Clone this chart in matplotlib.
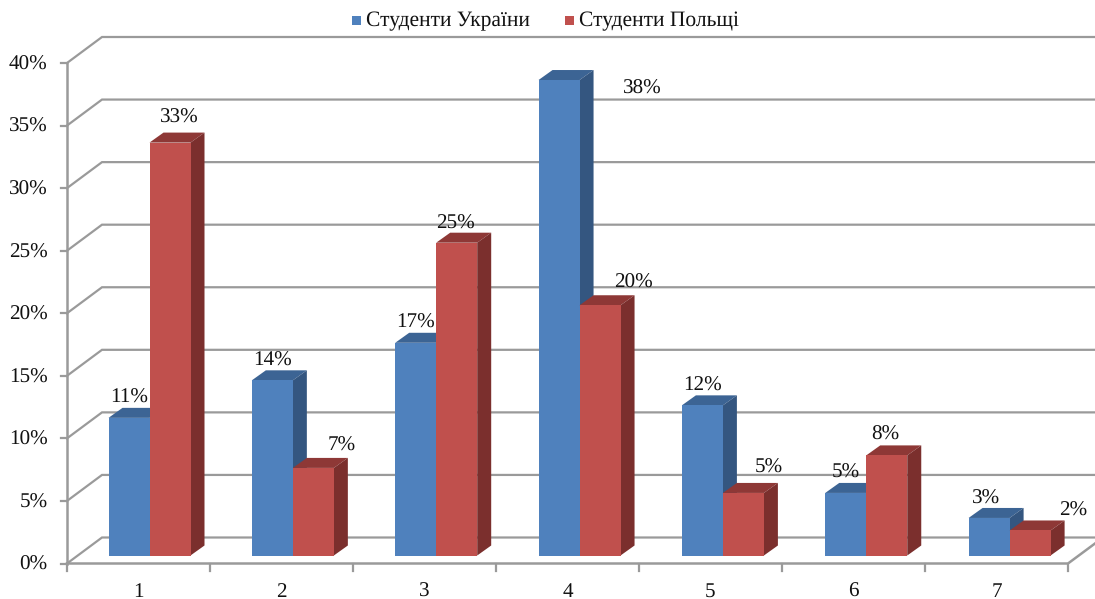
import matplotlib
matplotlib.use("Agg")
import matplotlib.pyplot as plt
from matplotlib.patches import Polygon, Rectangle

plt.rcParams['font.family'] = ['Liberation Serif', 'DejaVu Serif']
plt.rcParams['text.hinting'] = 'no_hinting'

categories = ['1', '2', '3', '4', '5', '6', '7']
ukraine = [11, 14, 17, 38, 12, 5, 3]
poland = [33, 7, 25, 20, 5, 8, 2]
y_ticks = [0, 5, 10, 15, 20, 25, 30, 35, 40]
series_names = ['Студенти України', 'Студенти Польщі']

# label shift from the bar top centre, in pixels (x right, y up)
ukraine_label_shift = [(0, 20), (0, 20), (0, 20), (83, -9), (0, 20), (0, 20), (-3, 19)]
poland_label_shift = [(9, 25), (28, 22), (-1, 19), (33, 23), (25, 25), (-1, 21), (43, 20)]

W, H = 1095, 599
LEFT, RIGHT, BOTTOM, TOP = 67, 1068, 563.5, 63
n = len(categories)
FS = 15.2

fig = plt.figure(figsize=(W / 100, H / 100), dpi=100)
ax = fig.add_axes([LEFT / W, 1 - BOTTOM / H, (RIGHT - LEFT) / W, (BOTTOM - TOP) / H])
ax.set_xlim(0, n)
ax.set_ylim(0, 40)
ax.axis('off')

px = n / (RIGHT - LEFT)
py = 40 / (BOTTOM - TOP)

# 3d wall and floor offsets
wall_dx, wall_dy = 35 * px, 26 * py
depth_dx, depth_dy = 14 * px, 10 * py
bar_w = 41 * px
gap = 41.5 * px
drift = 0.35 * px  # groups sit a bit wider than the ticks
floor = 8 * py

GRID = '#9a9a9a'
for t in y_ticks:
    ax.plot([0, wall_dx, n + 27 * px], [t, t + wall_dy, t + wall_dy], color=GRID, lw=1.6,
            clip_on=False, zorder=1, solid_joinstyle='miter')
    ax.plot([-6 * px, 0], [t, t], color=GRID, lw=1.6, clip_on=False, zorder=1)
    ax.text(-19.5 * px, t - 1.5 * py, f'{t}%', ha='right', va='center', fontsize=FS, color='#111111')
ax.plot([0, 0], [0, 40], color=GRID, lw=1.8, clip_on=False, zorder=1)
ax.plot([0, n, n + 27 * px], [0, 0, 20 * py], color=GRID, lw=1.8, clip_on=False, zorder=1)
for i in range(n + 1):
    ax.plot([i, i], [0, -7 * py], color=GRID, lw=1.6, clip_on=False, zorder=1)
for i, c in enumerate(categories):
    ax.text(i + 0.5, -28 * py, c, ha='center', va='center', fontsize=FS, color='#111111')


def bar3d(x, v, front, top, side, z):
    ax.add_patch(Polygon([(x, v + floor), (x + depth_dx, v + floor + depth_dy),
                          (x + bar_w + depth_dx, v + floor + depth_dy), (x + bar_w, v + floor)],
                         fc=top, ec='none', zorder=z, clip_on=False))
    ax.add_patch(Polygon([(x + bar_w, floor), (x + bar_w + depth_dx, floor + depth_dy),
                          (x + bar_w + depth_dx, v + floor + depth_dy), (x + bar_w, v + floor)],
                         fc=side, ec='none', zorder=z, clip_on=False))
    ax.add_patch(Rectangle((x, floor), bar_w, v, fc=front, ec='none', zorder=z + 0.1, clip_on=False))


for i in range(n):
    x0 = i + gap + i * drift
    bar3d(x0, ukraine[i], '#4f81bd', '#3c6494', '#345680', 2 + i)
    bar3d(x0 + bar_w, poland[i], '#c0504d', '#8e3836', '#7b2f2d', 2.3 + i)
    for x, v, sh in ((x0, ukraine[i], ukraine_label_shift[i]),
                     (x0 + bar_w, poland[i], poland_label_shift[i])):
        ax.text(x + bar_w / 2 + sh[0] * px, v + floor + sh[1] * py, f'{v}%', ha='center',
                va='center', fontsize=FS, color='#111111', zorder=20, clip_on=False)

# legend
for name, col, mx, tx in ((series_names[0], '#4f81bd', 352, 366), (series_names[1], '#c0504d', 565, 579)):
    fig.add_artist(Rectangle((mx / W, 1 - 25 / H), 9 / W, 9 / H, fc=col, ec='none',
                             transform=fig.transFigure))
    fig.text(tx / W, 1 - 21 / H, name, ha='left', va='center', fontsize=15.5, color='#111111')

fig.savefig('out.png', dpi=100)
